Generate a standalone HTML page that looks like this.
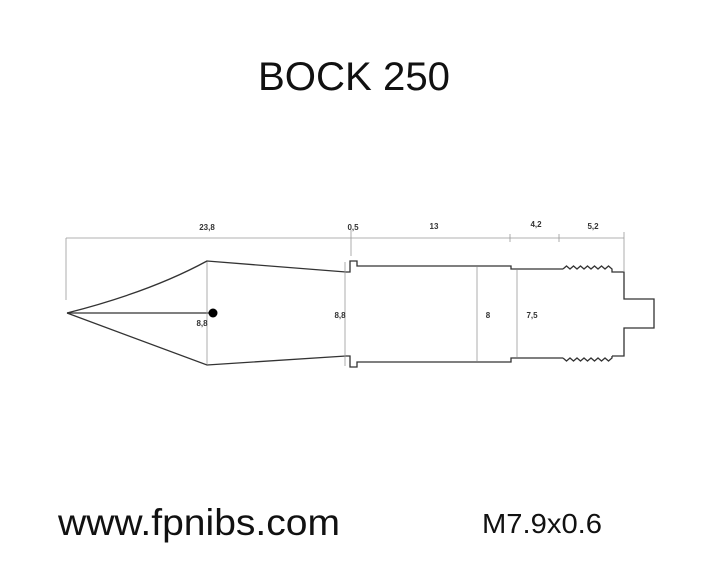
<!DOCTYPE html>
<html><head><meta charset="utf-8"><style>
html,body{margin:0;padding:0;background:#fff;}
svg{display:block;font-family:"Liberation Sans",Arial,sans-serif;}
</style></head><body>
<svg width="720" height="569" viewBox="0 0 720 569" xmlns="http://www.w3.org/2000/svg">
<rect width="720" height="569" fill="#fff"/>
<text x="258" y="90" font-size="40" textLength="192" lengthAdjust="spacingAndGlyphs" fill="#111">BOCK 250</text>
<text x="58" y="535" font-size="37" textLength="282" lengthAdjust="spacingAndGlyphs" fill="#111">www.fpnibs.com</text>
<text x="482" y="533" font-size="28" textLength="120" lengthAdjust="spacingAndGlyphs" fill="#111">M7.9x0.6</text>

<g fill="none" stroke="#333" stroke-width="1.3">
<path d="M67,313 Q150,292 207,261 L346,272"/>
<path d="M67,313 L207,365 L346,356"/>
<line x1="67" y1="313" x2="213" y2="313"/>
<path d="M346,272 L350,272 L350,261 L357,261 L357,266 L511,266 L511,269 L563,269"/>
<path d="M346,356 L350,356 L350,367 L357,367 L357,362 L511,362 L511,358 L563,358"/>
<path d="M563,269 l3.5,-3 l3.5,3 l3.5,-3 l3.5,3 l3.5,-3 l3.5,3 l3.5,-3 l3.5,3 l3.5,-3 l3.5,3 l3.5,-3 l3.5,3 l3.5,-3 l3.5,3 L612,272 L624,272 L624,299 L654,299 L654,328 L624,328 L624,356 L612,356"/>
<path d="M563,358 l3.5,3 l3.5,-3 l3.5,3 l3.5,-3 l3.5,3 l3.5,-3 l3.5,3 l3.5,-3 l3.5,3 l3.5,-3 l3.5,3 l3.5,-3 l3.5,3 l3.5,-3 L612,356"/>
</g>
<circle cx="213" cy="313" r="4.5" fill="#000"/>

<g stroke="#999" stroke-width="0.8" fill="none">
<line x1="66" y1="238" x2="624" y2="238"/>
<line x1="66" y1="238" x2="66" y2="300"/>
<line x1="351" y1="230" x2="351" y2="256"/>
<line x1="624" y1="232" x2="624" y2="272"/>
<line x1="207" y1="262" x2="207" y2="364"/>
<line x1="345" y1="262" x2="345" y2="366"/>
<line x1="477" y1="267" x2="477" y2="361"/>
<line x1="517" y1="270" x2="517" y2="357"/>
<line x1="510" y1="234" x2="510" y2="242"/>
<line x1="559" y1="234" x2="559" y2="242"/>
</g>
<g font-size="8" fill="#333" font-weight="bold">
<text x="207" y="230" text-anchor="middle">23,8</text>
<text x="353" y="230" text-anchor="middle">0,5</text>
<text x="434" y="229" text-anchor="middle">13</text>
<text x="536" y="227" text-anchor="middle">4,2</text>
<text x="593" y="229" text-anchor="middle">5,2</text>
<text x="202" y="326" text-anchor="middle">8,8</text>
<text x="340" y="318" text-anchor="middle">8,8</text>
<text x="488" y="318" text-anchor="middle">8</text>
<text x="532" y="318" text-anchor="middle">7,5</text>
</g>
</svg>
</body></html>
